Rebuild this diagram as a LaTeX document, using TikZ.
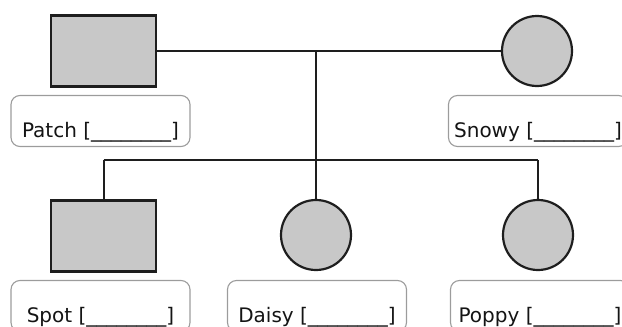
\documentclass[tikz,border=0pt]{standalone}
\usepackage{fontspec}
\setmainfont{DejaVu Sans}
\definecolor{symfill}{HTML}{C8C8C8}
\definecolor{boxline}{HTML}{9C9C9C}
\definecolor{ink}{HTML}{1E1E1E}
\tikzset{
  male/.style={draw=ink, line width=2.2pt, fill=symfill, minimum width=105pt, minimum height=71pt, inner sep=0pt},
  female/.style={draw=ink, line width=2.2pt, fill=symfill, circle, minimum size=70pt, inner sep=0pt},
  namebox/.style={draw=boxline, line width=1.1pt, rounded corners=9pt, minimum width=179pt,
    text height=42pt, text depth=9pt, inner ysep=0pt, inner xsep=0pt, font=\fontsize{20}{20}\selectfont, text=black!92},
  link/.style={draw=ink, line width=2pt}
}
\begin{document}
\begin{tikzpicture}[x=1pt,y=-1pt]
\useasboundingbox (0,0) rectangle (622,327);
\clip (0,0) rectangle (622,327);
\node[male] (patch) at (103.5,51) {};
\node[female] (snowy) at (537,51) {};
\node[male] (spot) at (103.5,236) {};
\node[female] (daisy) at (316,235) {};
\node[female] (poppy) at (538,235) {};
\node[namebox] (patchl) at (100.5,121) {Patch [\_\_\_\_\_\_\_\_]};
\node[namebox] (snowyl) at (538,121) {Snowy [\_\_\_\_\_\_\_\_]};
\node[namebox] (spotl) at (100.5,306) {Spot [\_\_\_\_\_\_\_\_]};
\node[namebox] (daisyl) at (317,306) {Daisy [\_\_\_\_\_\_\_\_]};
\node[namebox] (poppyl) at (540,306) {Poppy [\_\_\_\_\_\_\_\_]};
\coordinate (mid) at (316,51);
\coordinate (sib) at (316,160);
\coordinate (sibL) at (103.5,160);
\coordinate (sibR) at (538,160);
\draw[link] (patch.east) -- (snowy.west);
\draw[link] (mid) -- (sib);
\draw[link] (sibL) -- (sibR);
\draw[link] (sibL) -- (spot.north);
\draw[link] (sib) -- (daisy.north);
\draw[link] (sibR) -- (poppy.north);
\end{tikzpicture}
\end{document}
